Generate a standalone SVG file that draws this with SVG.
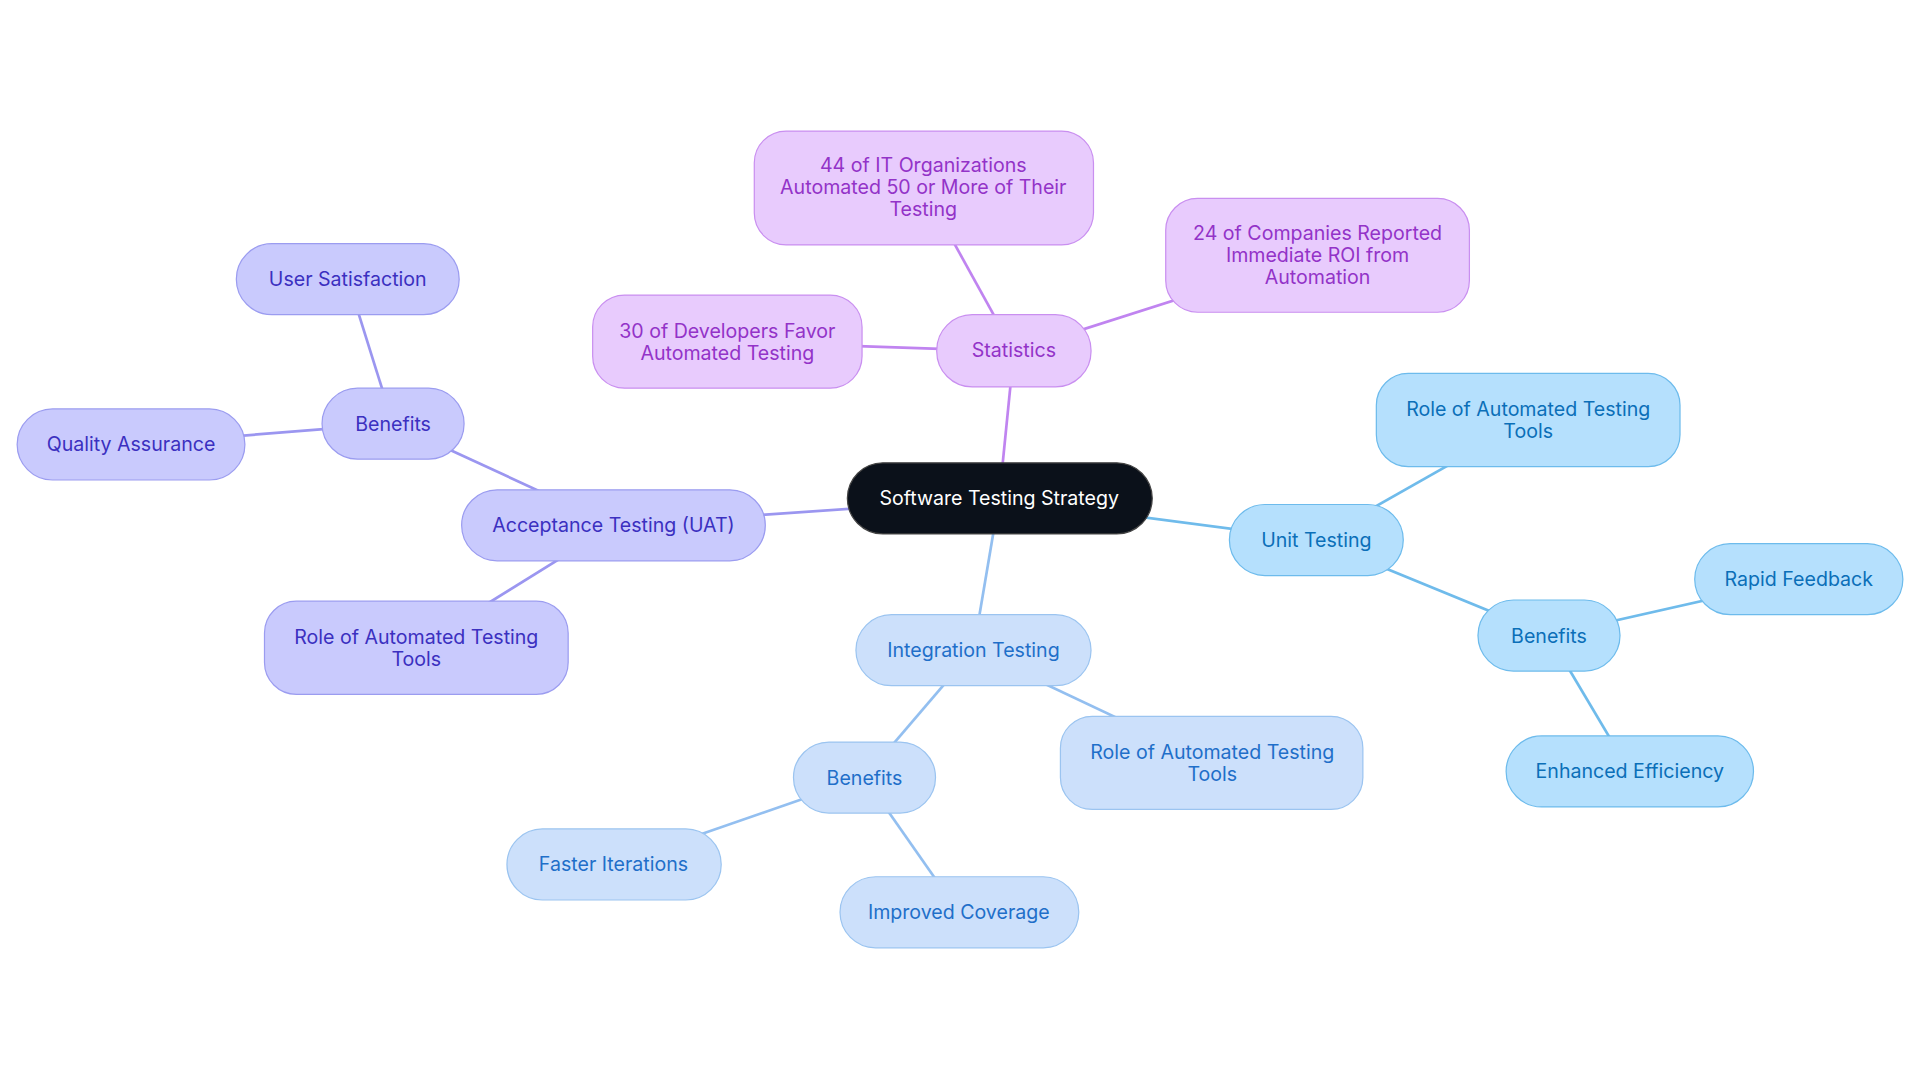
<svg xmlns="http://www.w3.org/2000/svg" width="1920" height="1083" viewBox="0 0 1920 1083">
<style>
text{font-family:Inter,"Noto Sans",sans-serif;font-size:16px;text-anchor:middle;dominant-baseline:central}
.p rect{fill:#e8cbfd;stroke:#c98ff0}.p text{fill:#9333c8}
.u rect{fill:#c9cafd;stroke:#9b9cf0}.u text{fill:#3b30c0}
.i rect{fill:#cce0fb;stroke:#9bc4f0}.i text{fill:#1f6fc9}
.t rect{fill:#b5e0fd;stroke:#6dbbec}.t text{fill:#0b6fb8}
rect{stroke-width:1}
#edges line{stroke-width:2.2}
</style>
<rect width="1920" height="1083" fill="#fff"/>
<g transform="scale(1.2245)">
<g id="edges">
<line x1="816" y1="407" x2="828" y2="287" stroke="#c084f0"/>
<line x1="828" y1="287" x2="754" y2="153" stroke="#c084f0"/>
<line x1="828" y1="287" x2="1076" y2="208" stroke="#c084f0"/>
<line x1="828" y1="287" x2="594" y2="279" stroke="#c084f0"/>
<line x1="816" y1="407" x2="501" y2="429" stroke="#9b96f0"/>
<line x1="501" y1="429" x2="321" y2="346" stroke="#9b96f0"/>
<line x1="321" y1="346" x2="284" y2="228" stroke="#9b96f0"/>
<line x1="321" y1="346" x2="107" y2="363" stroke="#9b96f0"/>
<line x1="501" y1="429" x2="340" y2="529" stroke="#9b96f0"/>
<line x1="816" y1="407" x2="795" y2="531" stroke="#93bff0"/>
<line x1="795" y1="531" x2="706" y2="635" stroke="#93bff0"/>
<line x1="706" y1="635" x2="501" y2="706" stroke="#93bff0"/>
<line x1="706" y1="635" x2="783" y2="745" stroke="#93bff0"/>
<line x1="795" y1="531" x2="990" y2="623" stroke="#93bff0"/>
<line x1="816" y1="407" x2="1075" y2="441" stroke="#6fbbeb"/>
<line x1="1075" y1="441" x2="1248" y2="343" stroke="#6fbbeb"/>
<line x1="1075" y1="441" x2="1265" y2="519" stroke="#6fbbeb"/>
<line x1="1265" y1="519" x2="1469" y2="473" stroke="#6fbbeb"/>
<line x1="1265" y1="519" x2="1331" y2="630" stroke="#6fbbeb"/>
</g>
<g id="root"><rect x="692" y="378" width="249" height="58" rx="29" fill="#0b111a" stroke="#444"/><text x="816" y="407" fill="#fff">Software Testing Strategy</text></g>
<g id="stats" class="p"><rect x="765" y="257" width="126" height="59" rx="29"/><text x="828" y="286">Statistics</text></g>
<g id="s44" class="p"><rect x="616" y="107" width="277" height="93" rx="26"/><text x="754" y="135">44 of IT Organizations</text><text x="754" y="153">Automated 50 or More of Their</text><text x="754" y="171">Testing</text></g>
<g id="s24" class="p"><rect x="952" y="162" width="248" height="93" rx="26"/><text x="1076" y="190">24 of Companies Reported</text><text x="1076" y="208">Immediate ROI from</text><text x="1076" y="226">Automation</text></g>
<g id="s30" class="p"><rect x="484" y="241" width="220" height="76" rx="26"/><text x="594" y="270">30 of Developers Favor</text><text x="594" y="288">Automated Testing</text></g>
<g id="uat" class="u"><rect x="377" y="400" width="248" height="58" rx="29"/><text x="501" y="429">Acceptance Testing (UAT)</text></g>
<g id="ub" class="u"><rect x="263" y="317" width="116" height="58" rx="29"/><text x="321" y="346">Benefits</text></g>
<g id="us" class="u"><rect x="193" y="199" width="182" height="58" rx="29"/><text x="284" y="228">User Satisfaction</text></g>
<g id="uq" class="u"><rect x="14" y="334" width="186" height="58" rx="29"/><text x="107" y="363">Quality Assurance</text></g>
<g id="ur" class="u"><rect x="216" y="491" width="248" height="76" rx="26"/><text x="340" y="520">Role of Automated Testing</text><text x="340" y="538">Tools</text></g>
<g id="it" class="i"><rect x="699" y="502" width="192" height="58" rx="29"/><text x="795" y="531">Integration Testing</text></g>
<g id="ib" class="i"><rect x="648" y="606" width="116" height="58" rx="29"/><text x="706" y="635">Benefits</text></g>
<g id="if" class="i"><rect x="414" y="677" width="175" height="58" rx="29"/><text x="501" y="706">Faster Iterations</text></g>
<g id="ic" class="i"><rect x="686" y="716" width="195" height="58" rx="29"/><text x="783" y="745">Improved Coverage</text></g>
<g id="ir" class="i"><rect x="866" y="585" width="247" height="76" rx="26"/><text x="990" y="614">Role of Automated Testing</text><text x="990" y="632">Tools</text></g>
<g id="ut" class="t"><rect x="1004" y="412" width="142" height="58" rx="29"/><text x="1075" y="441">Unit Testing</text></g>
<g id="tr" class="t"><rect x="1124" y="305" width="248" height="76" rx="26"/><text x="1248" y="334">Role of Automated Testing</text><text x="1248" y="352">Tools</text></g>
<g id="tb" class="t"><rect x="1207" y="490" width="116" height="58" rx="29"/><text x="1265" y="519">Benefits</text></g>
<g id="trf" class="t"><rect x="1384" y="444" width="170" height="58" rx="29"/><text x="1469" y="473">Rapid Feedback</text></g>
<g id="te" class="t"><rect x="1230" y="601" width="202" height="58" rx="29"/><text x="1331" y="630">Enhanced Efficiency</text></g>
</g>
</svg>
